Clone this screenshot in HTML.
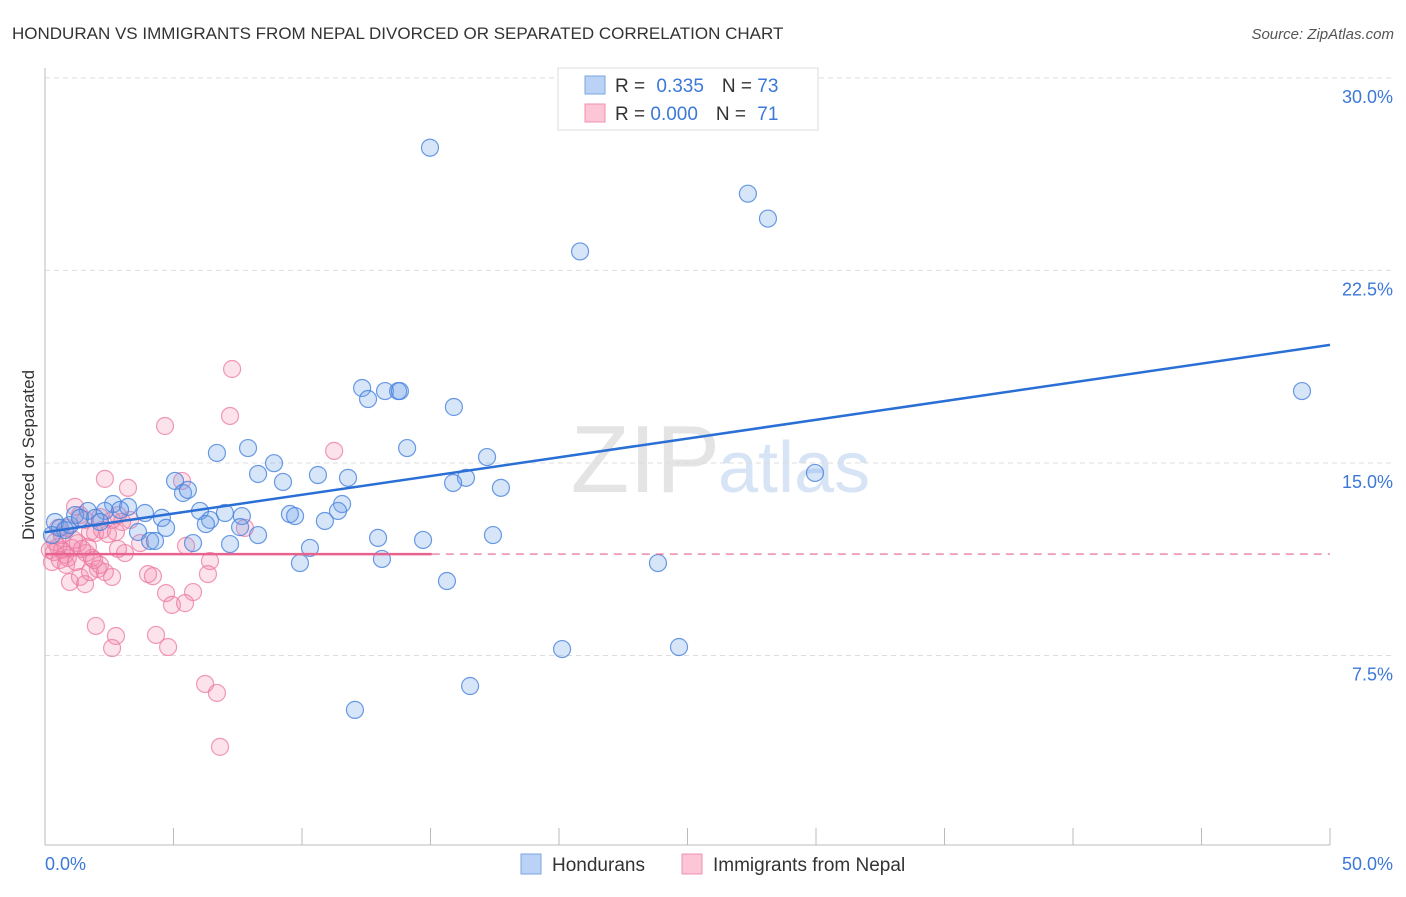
<!DOCTYPE html>
<html><head><meta charset="utf-8"><style>
body{margin:0;background:#fff;font-family:"Liberation Sans",sans-serif;}
svg text{font-family:"Liberation Sans",sans-serif;}
</style></head><body>
<svg id="c" width="1406" height="892" xmlns="http://www.w3.org/2000/svg">
<text x="12" y="39" font-size="17" fill="#333">HONDURAN VS IMMIGRANTS FROM NEPAL DIVORCED OR SEPARATED CORRELATION CHART</text>
<text x="1394" y="39" font-size="15" fill="#555" font-style="italic" text-anchor="end">Source: ZipAtlas.com</text>
<text x="720" y="492" font-size="96" fill="#e4e4e4" text-anchor="end" font-family="Liberation Serif">ZIP</text>
<text x="718" y="492" font-size="72" fill="#d6e4f5">atlas</text>
<text transform="translate(34,455) rotate(-90)" font-size="17" fill="#333" text-anchor="middle">Divorced or Separated</text>
<g id="grid"></g><g id="pts"></g><g id="trend"></g>
<g>
<rect x="558" y="68" width="260" height="62" fill="#fff" stroke="#ddd"/>
<rect x="585" y="76" width="20" height="18" fill="#b9d2f5" stroke="#7aa5e0"/>
<rect x="585" y="104" width="20" height="18" fill="#fcc6d6" stroke="#f090b0"/>
<text x="615" y="92" font-size="19" fill="#333">R = <tspan fill="#3b78d8" dx="6">0.335</tspan><tspan dx="18">N = </tspan><tspan fill="#3b78d8">73</tspan></text>
<text x="615" y="120" font-size="19" fill="#333">R = <tspan fill="#3b78d8">0.000</tspan><tspan dx="18">N = </tspan><tspan fill="#3b78d8" dx="6">71</tspan></text>
</g>
<g>
<rect x="521" y="854" width="20" height="20" fill="#b9d2f5" stroke="#7aa5e0"/>
<text x="552" y="871" font-size="19" fill="#333">Hondurans</text>
<rect x="682" y="854" width="20" height="20" fill="#fcc6d6" stroke="#f090b0"/>
<text x="713" y="871" font-size="19" fill="#333">Immigrants from Nepal</text>
</g>
</svg>
<script>
const yTicks=[7.5,15,22.5,30];
const yTickLabels=["7.5%","15.0%","22.5%","30.0%"];
const xTickValues=[0,5,10,15,20,25,30,35,40,45,50];
const hondX=[14.98,27.35,28.13,20.82,48.91,12.34,12.57,13.23,13.74,13.81,15.91,14.09,17.2,29.96,7.9,6.69,8.91,8.29,10.62,11.79,9.26,5.06,5.37,5.56,16.38,15.88,17.74,2.65,3.23,2.92,1.67,2.33,3.89,4.55,6.03,7.0,7.66,9.53,9.73,11.56,11.4,10.89,6.42,6.26,7.59,4.71,3.62,8.29,12.96,14.71,17.43,4.09,4.28,5.76,7.2,10.31,13.11,9.92,15.64,23.85,20.12,24.67,16.54,12.06,0.39,0.58,0.78,0.97,1.17,1.36,1.95,2.14,0.27];
const hondY=[27.28,25.49,24.52,23.24,17.8,17.92,17.49,17.8,17.8,17.8,17.18,15.58,15.23,14.61,15.58,15.39,14.99,14.57,14.53,14.42,14.26,14.3,13.83,13.95,14.42,14.22,14.03,13.4,13.29,13.17,13.13,13.13,13.05,12.86,13.13,13.05,12.93,13.01,12.93,13.4,13.13,12.74,12.78,12.62,12.5,12.47,12.31,12.19,12.08,12.0,12.19,11.96,11.96,11.88,11.84,11.69,11.26,11.1,10.4,11.1,7.75,7.83,6.31,5.38,12.7,12.47,12.39,12.58,12.97,12.86,12.86,12.7,12.19,12.78];
const nepX=[7.28,7.2,4.67,11.25,5.33,2.33,3.23,1.17,1.36,1.56,2.14,2.61,2.84,3.0,1.95,2.22,2.45,2.76,7.78,0.39,0.51,0.66,0.78,0.89,0.19,0.27,1.05,1.28,1.67,1.83,3.11,2.84,3.7,5.49,6.42,0.97,1.36,1.56,1.75,2.06,2.33,2.14,2.61,4.01,4.2,6.34,4.71,5.76,4.94,5.45,1.98,2.76,2.61,4.32,4.79,6.23,6.69,6.81,0.51,0.66,0.86,1.13,1.6,1.91,0.35,0.58,0.82,1.21,1.44,1.75,3.31];
const nepY=[18.66,16.83,16.44,15.47,14.3,14.38,14.03,13.29,12.97,12.78,12.89,12.78,12.97,12.7,12.27,12.39,12.23,12.31,12.47,11.92,11.73,11.61,11.42,11.3,11.61,11.14,11.69,11.88,11.73,11.3,11.49,11.65,11.88,11.77,11.18,10.36,10.56,10.28,10.75,10.87,10.75,11.03,10.56,10.67,10.59,10.67,9.93,9.97,9.47,9.54,8.65,8.26,7.79,8.3,7.83,6.39,6.04,3.94,12.47,12.19,12.47,12.0,11.49,11.22,11.53,11.22,11.03,11.14,11.65,12.31,12.78];
const trendBlue=[12.3,19.6];
const trendPink=[11.45,11.45];
const NS="http://www.w3.org/2000/svg";
const X0=45,X1=1330,Y0=848,PPY=25.67;
function sx(v){return X0+(X1-X0)*v/50;}
function sy(v){return Y0-v*PPY;}
function mk(t,a,p){const e=document.createElementNS(NS,t);for(const k in a)e.setAttribute(k,a[k]);p.appendChild(e);return e;}
const grid=document.getElementById('grid');
yTicks.forEach((v,i)=>{
 const l=mk('line',{x1:45,x2:1394,y1:sy(v),y2:sy(v),stroke:'#ddd','stroke-dasharray':'5,4'},grid);
 
 
 const t=mk('text',{x:1393,y:sy(v)+25,'font-size':18,fill:'#3b78d8','text-anchor':'end'},grid);
 t.textContent=yTickLabels[i];
 
 
});
mk('line',{x1:45,x2:45,y1:68,y2:845,stroke:'#bbb'},grid);
mk('line',{x1:45,x2:1330,y1:845,y2:845,stroke:'#bbb'},grid);
xTickValues.forEach(v=>{
 const l=mk('line',{x1:sx(v),x2:sx(v),y1:828,y2:845,stroke:'#bbb'},grid);
 
 
});
const xl=mk('text',{x:45,y:870,'font-size':18,fill:'#3b78d8'},grid);xl.textContent='0.0%';


const xr=mk('text',{x:1393,y:870,'font-size':18,fill:'#3b78d8','text-anchor':'end'},grid);xr.textContent='50.0%';


const pts=document.getElementById('pts');
nepX.forEach((v,i)=>{
 const c=mk('circle',{cx:sx(v),cy:sy(nepY[i]),r:8.5,fill:'rgba(245,140,175,0.25)',stroke:'rgba(235,120,160,0.75)','stroke-width':1.2},pts);
 
 
});
hondX.forEach((v,i)=>{
 const c=mk('circle',{cx:sx(v),cy:sy(hondY[i]),r:8.5,fill:'rgba(110,160,235,0.28)',stroke:'rgba(70,130,220,0.8)','stroke-width':1.2},pts);
 
 
});
const tr=document.getElementById('trend');
const tb=mk('line',{x1:sx(0),y1:sy(trendBlue[0]),x2:sx(50),y2:sy(trendBlue[1]),stroke:'#2a6fd6','stroke-width':2.5},tr);


const tp=mk('line',{x1:sx(0),y1:sy(trendPink[0]),x2:sx(15.05),y2:sy(trendPink[0]),stroke:'#e8628e','stroke-width':2.5},tr);


const td=mk('line',{x1:sx(15.05),y1:sy(trendPink[0]),x2:sx(50),y2:sy(trendPink[1]),stroke:'#e8628e','stroke-width':1.2,'stroke-dasharray':'8,6'},tr);


</script>
</body></html>
